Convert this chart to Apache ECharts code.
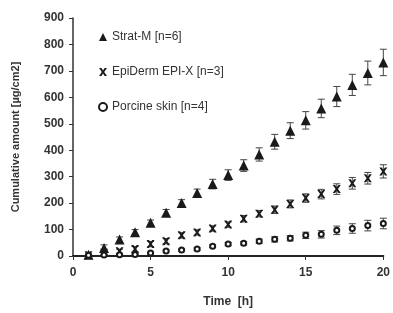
<!DOCTYPE html>
<html>
<head>
<meta charset="utf-8">
<script src="https://cdn.jsdelivr.net/npm/echarts@6/dist/echarts.min.js"></script>
<style>
  html, body { margin: 0; padding: 0; background: #fff; }
  #chart { width: 393px; height: 313px; }
</style>
</head>
<body>
<div id="chart"></div>
<script>
  // time points [h]
  const times = [1, 2, 3, 4, 5, 6, 7, 8, 9, 10, 11, 12, 13, 14, 15, 16, 17, 18, 19, 20]
  // cumulative amount [µg/cm2]
  const stratM = [5, 30, 62, 90, 126, 164, 200, 238, 272, 306, 342, 384, 432, 474, 513, 558, 603, 647, 692, 732]
  const stratMErr = [3, 12, 10, 10, 10, 12, 13, 15, 18, 20, 22, 25, 28, 30, 33, 35, 38, 40, 45, 50]
  const epiDerm = [3, 12, 18, 26, 45, 56, 78, 89, 104, 119, 141, 160, 175, 197, 219, 234, 253, 275, 294, 320]
  const epiDermErr = [2, 8, 8, 10, 10, 10, 10, 10, 10, 10, 12, 12, 14, 15, 16, 18, 20, 22, 22, 25]
  const porcine = [3, 4, 5, 6, 11, 19, 23, 26, 37, 45, 48, 56, 63, 67, 78, 82, 97, 104, 115, 123]
  const porcineErr = [1, 2, 2, 2, 3, 4, 4, 5, 5, 6, 6, 8, 10, 10, 12, 14, 16, 18, 20, 20]
  const names = ['Strat-M [n=6]', 'EpiDerm EPI-X [n=3]', 'Porcine skin [n=4]']

  const xMark = 'path://M0,0 L3,0 L5,3 L7,0 L10,0 L6.5,5 L10,10 L7,10 L5,7 L3,10 L0,10 L3.5,5 Z'
  const ink = '#1a1a1a'

  function pts (vals) {
    return times.map((t, i) => [t, vals[i]])
  }
  function bars (vals, errs) {
    return times.map((t, i) => [t, vals[i] - errs[i], vals[i] + errs[i]])
  }
  function errSeries (vals, errs) {
    return {
      type: 'custom',
      silent: true,
      z: 1,
      data: bars(vals, errs),
      renderItem: function (params, api) {
        const lo = api.coord([api.value(0), api.value(1)])
        const hi = api.coord([api.value(0), api.value(2)])
        const w = 3.5
        const style = { stroke: '#444', lineWidth: 1 }
        return {
          type: 'group',
          children: [
            { type: 'line', shape: { x1: lo[0], y1: lo[1], x2: hi[0], y2: hi[1] }, style: style },
            { type: 'line', shape: { x1: lo[0] - w, y1: lo[1], x2: lo[0] + w, y2: lo[1] }, style: style },
            { type: 'line', shape: { x1: hi[0] - w, y1: hi[1], x2: hi[0] + w, y2: hi[1] }, style: style }
          ]
        }
      }
    }
  }

  let chart = echarts.init(document.getElementById('chart'))
  chart.setOption({
    animation: false,
    textStyle: { fontFamily: 'Liberation Sans, Arial, sans-serif' },
    grid: { left: 73, right: 9, top: 18, bottom: 53 },
    legend: {
      orient: 'vertical',
      left: 93,
      top: 26,
      itemGap: 23,
      itemWidth: 8,
      itemHeight: 8,
      textStyle: { fontSize: 12, color: '#333' },
      data: [
        { name: names[0], icon: 'triangle' },
        { name: names[1], icon: xMark },
        { name: names[2], icon: 'emptyCircle' }
      ]
    },
    xAxis: {
      type: 'value',
      min: 0,
      max: 20,
      interval: 5,
      name: 'Time  [h]',
      nameLocation: 'middle',
      nameGap: 40,
      nameTextStyle: { fontSize: 12, fontWeight: 'bold', color: '#333' },
      axisLine: { lineStyle: { color: '#222', width: 2 } },
      axisTick: { inside: false, length: 4, lineStyle: { color: '#333' } },
      axisLabel: { fontSize: 12, fontWeight: 'bold', color: '#333', margin: 11 },
      splitLine: { show: false }
    },
    yAxis: {
      type: 'value',
      min: 0,
      max: 900,
      interval: 100,
      name: 'Cumulative amount [µg/cm2]',
      nameLocation: 'middle',
      nameRotate: 90,
      nameGap: 52,
      nameTextStyle: { fontSize: 11, fontWeight: 'bold', color: '#333' },
      axisLine: { show: true, lineStyle: { color: '#333', width: 1.5 } },
      axisTick: { show: true, inside: false, length: 4, lineStyle: { color: '#333' } },
      axisLabel: { fontSize: 12, fontWeight: 'bold', color: '#333', margin: 9 },
      splitLine: { show: false }
    },
    series: [
      errSeries(stratM, stratMErr),
      errSeries(epiDerm, epiDermErr),
      errSeries(porcine, porcineErr),
      {
        name: names[0],
        type: 'scatter',
        z: 3,
        symbol: 'triangle',
        symbolSize: 10,
        itemStyle: { color: ink, opacity: 1 },
        data: pts(stratM)
      },
      {
        name: names[1],
        type: 'scatter',
        z: 3,
        symbol: xMark,
        symbolSize: 8,
        itemStyle: { color: ink, opacity: 1 },
        data: pts(epiDerm)
      },
      {
        name: names[2],
        type: 'scatter',
        z: 3,
        symbol: 'emptyCircle',
        symbolSize: 5,
        itemStyle: { color: ink, borderWidth: 1.5, opacity: 1 },
        data: pts(porcine)
      }
    ]
  })
</script>
</body>
</html>
